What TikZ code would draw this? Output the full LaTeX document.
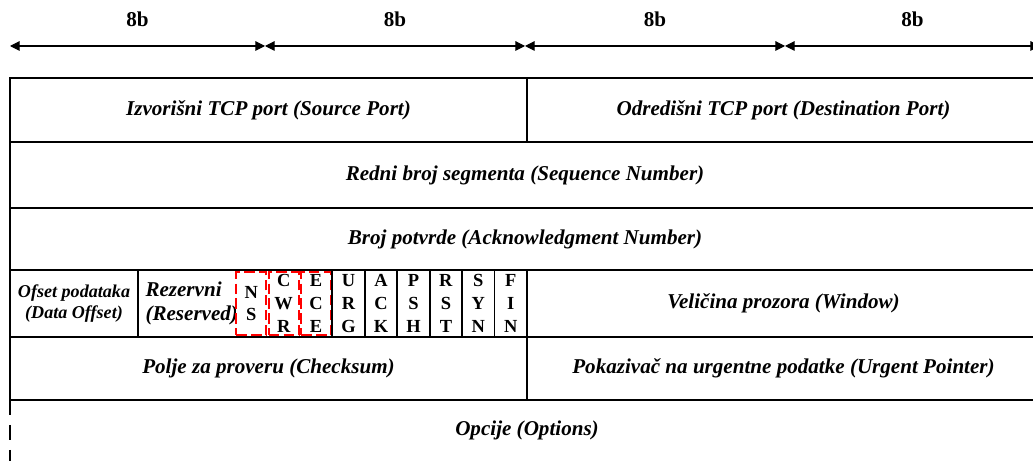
\documentclass[tikz,border=0pt]{standalone}
\usepackage{fontspec}
\setmainfont{Liberation Serif}
\usetikzlibrary{positioning, arrows.meta}

\begin{document}
\begin{tikzpicture}[>={Triangle[length=5.5pt, width=5.5pt]}, node distance=0pt, line width=1pt,
    cell/.style={draw, inner sep=0pt, outer sep=0pt, align=center, font=\fontsize{12}{14}\selectfont\bfseries\itshape},
    flag/.style={draw, inner sep=0pt, outer sep=0pt, minimum width=0.6489cm, minimum height=1.34cm, align=center, font=\fontsize{10.5}{13}\selectfont\bfseries},
    flagnew/.style={flag, draw=red, fill=white, dash pattern=on 6pt off 2.5pt, line width=1.3pt, minimum width=0.599cm, minimum height=1.26cm},
    bits/.style={midway, above=2.5mm, font=\fontsize{12}{14}\selectfont\bfseries}]

        \path[use as bounding box, clip] (0,0) rectangle (20.66,-9.22);

        % Duzine polja
        \coordinate (b0) at (0.2,-0.92);
        \coordinate (b1) at (5.3,-0.92);
        \coordinate (b2) at (10.5,-0.92);
        \coordinate (b3) at (15.7,-0.92);
        \coordinate (b4) at (20.8,-0.92);
        \draw [<->, line width=0.6pt] (b0) -- node[bits] (w1) {8b} (b1);
        \draw [<->, line width=0.6pt] (b1) -- node[bits] (w2) {8b} (b2);
        \draw [<->, line width=0.6pt] (b2) -- node[bits] (w3) {8b} (b3);
        \draw [<->, line width=0.6pt] (b3) -- node[bits] (w4) {8b} (b4);

        % Zaglavlje
        \node [cell, minimum width=10.34cm, minimum height=1.28cm, anchor=north west] (srcport) at (0.2,-1.56) {Izvorišni TCP port (Source Port)};
        \node [cell, minimum width=10.26cm, minimum height=1.28cm, right=of srcport] (dstport) {Odredišni TCP port (Destination Port)};
        \node [cell, minimum width=20.6cm, minimum height=1.32cm, anchor=north west] (seqnum) at (srcport.south west) {Redni broj segmenta (Sequence Number)};
        \node [cell, minimum width=20.6cm, minimum height=1.24cm, anchor=north west] (acknum) at (seqnum.south west) {Broj potvrde (Acknowledgment Number)};

        % Zastavice
        \node [cell, minimum width=2.56cm, minimum height=1.34cm, anchor=north west, font=\fontsize{10.3}{11.5}\selectfont\bfseries\itshape] (offset) at (acknum.south west) {Ofset podataka\\(Data Offset)};
        \node [cell, draw=none, minimum width=1.94cm, minimum height=1.34cm, text width=1.64cm, align=left, right=of offset] (reserved) {Rezervni\\(Reserved)};
        \node [flagnew, right=0.025cm of reserved] (ns) {N\\S};
        \node [flagnew, right=0.05cm of ns] (cwr) {C\\W\\R};
        \node [flagnew, right=0.05cm of cwr] (ece) {E\\C\\E};
        \node [flag, right=0.025cm of ece] (urg) {U\\R\\G};
        \node [flag, right=of urg] (ackf) {A\\C\\K};
        \node [flag, right=of ackf] (psh) {P\\S\\H};
        \node [flag, right=of psh] (rst) {R\\S\\T};
        \node [flag, right=of rst] (syn) {S\\Y\\N};
        \node [flag, right=of syn] (fin) {F\\I\\N};
        \node [cell, minimum width=10.26cm, minimum height=1.34cm, right=of fin] (window) {Veličina prozora (Window)};

        \node [cell, minimum width=10.34cm, minimum height=1.26cm, anchor=north west] (checksum) at (offset.south west) {Polje za proveru (Checksum)};
        \node [cell, minimum width=10.26cm, minimum height=1.26cm, right=of checksum] (urgptr) {Pokazivač na urgentne podatke (Urgent Pointer)};

        % Opcije
        \node [cell, draw=none] (options) at (10.54,-8.6) {Opcije (Options)};
        \coordinate (optend) at (0.2,-9.3);
        \draw [dash pattern=on 8.5pt off 5.7pt] (checksum.south west) -- (optend);

\end{tikzpicture}
\end{document}
